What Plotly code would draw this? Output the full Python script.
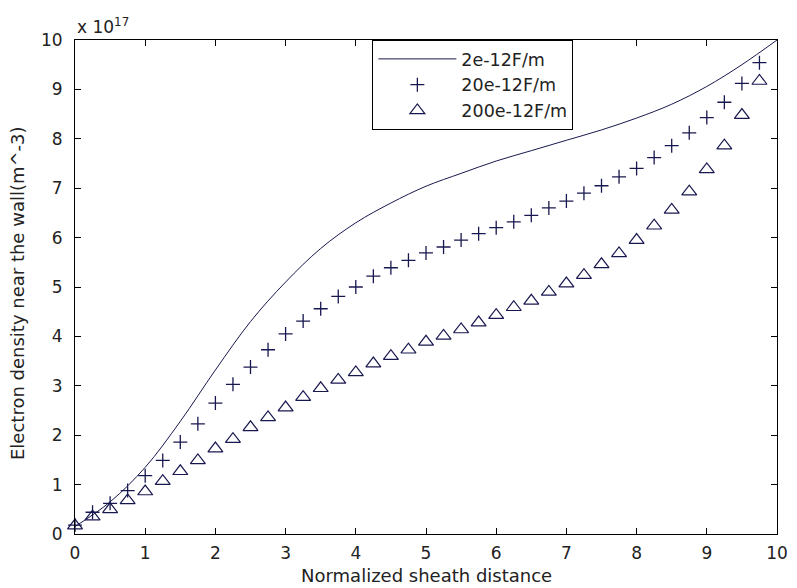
import plotly.graph_objects as go

# x positions of the marker series (normalized sheath distance)
x_markers = [i * 0.25 for i in range(40)]

# 20e-12 F/m series (units of 1e17 m^-3)
plus_vals = [0.18, 0.44, 0.62, 0.88, 1.18, 1.49, 1.86, 2.23, 2.65, 3.03,
             3.38, 3.73, 4.05, 4.31, 4.56, 4.81, 5.00, 5.22, 5.39, 5.54,
             5.69, 5.81, 5.95, 6.08, 6.20, 6.32, 6.45, 6.60, 6.74, 6.90,
             7.05, 7.23, 7.40, 7.62, 7.86, 8.12, 8.43, 8.74, 9.12, 9.54]

# 200e-12 F/m series
tri_vals = [0.17, 0.35, 0.50, 0.68, 0.86, 1.07, 1.27, 1.49, 1.73, 1.92,
            2.16, 2.36, 2.56, 2.77, 2.95, 3.12, 3.27, 3.45, 3.60, 3.73,
            3.89, 4.01, 4.14, 4.28, 4.43, 4.59, 4.72, 4.90, 5.07, 5.24,
            5.46, 5.68, 5.95, 6.24, 6.56, 6.93, 7.38, 7.86, 8.48, 9.17]

# 2e-12 F/m curve
x_line = [i * 0.5 for i in range(21)]
line_vals = [0.15, 0.65, 1.35, 2.28, 3.32, 4.30, 5.10, 5.78, 6.30, 6.70,
             7.04, 7.30, 7.55, 7.76, 7.97, 8.18, 8.42, 8.70, 9.06, 9.50, 10.0]

tick_vals = list(range(0, 11))
tick_text = [str(v) for v in tick_vals]

series_names = ["2e-12F/m", "20e-12F/m", "200e-12F/m"]

navy = "#181850"
font_family = "DejaVu Sans"

fig = go.Figure()
fig.add_trace(go.Scatter(x=x_line, y=line_vals, mode="lines", name=series_names[0],
                         line=dict(color=navy, width=1, shape="spline", smoothing=1.0),
                         cliponaxis=False))
fig.add_trace(go.Scatter(x=x_markers, y=plus_vals, mode="markers", name=series_names[1],
                         marker=dict(symbol="cross-thin-open", size=10,
                                     line=dict(color=navy, width=1.3), color=navy),
                         cliponaxis=False))
fig.add_trace(go.Scatter(x=x_markers, y=tri_vals, mode="markers", name=series_names[2],
                         marker=dict(symbol="triangle-up-open", size=13,
                                     line=dict(color=navy, width=1.2), color=navy),
                         cliponaxis=False))

axis_common = dict(range=[0, 10], tickvals=tick_vals, ticktext=tick_text,
                   ticks="inside", ticklen=6, tickcolor="black", tickwidth=1,
                   showline=True, linecolor="black", linewidth=1, mirror="ticks",
                   showgrid=False, zeroline=False, ticklabeloverflow="allow",
                   tickfont=dict(family=font_family, size=17, color="#222"))

fig.update_layout(
    width=797, height=588,
    margin=dict(l=75, r=9, t=40, b=54, pad=0),
    paper_bgcolor="white", plot_bgcolor="white",
    xaxis=dict(**axis_common, ticklabelstandoff=4),
    yaxis=dict(**axis_common, ticklabelstandoff=8),
    showlegend=True,
    legend=dict(x=0.4236, y=1.0, xanchor="left", yanchor="top",
                bgcolor="white", bordercolor="black", borderwidth=1,
                font=dict(family=font_family, size=17.5, color="#222"),
                itemwidth=78, tracegroupgap=0),
    annotations=[
        dict(text="Normalized sheath distance", x=0.5, y=0, xref="paper", yref="paper",
             xanchor="center", yanchor="top", yshift=-29, showarrow=False,
             font=dict(family=font_family, size=18, color="#222")),
        dict(text="Electron density near the wall(m^-3)", x=0, y=0.5, xref="paper",
             yref="paper", xanchor="center", yanchor="middle", xshift=-58, yshift=-6,
             textangle=-90, showarrow=False,
             font=dict(family=font_family, size=18, color="#222")),
        dict(text="x 10<sup>17</sup>", x=0, y=1, xref="paper", yref="paper",
             xanchor="left", yanchor="bottom", yshift=1, showarrow=False,
             font=dict(family=font_family, size=17, color="#222")),
    ],
)

fig.write_html("out.html", config={"displayModeBar": False},
               post_script="document.body.style.margin='0';document.body.style.padding='0';")
